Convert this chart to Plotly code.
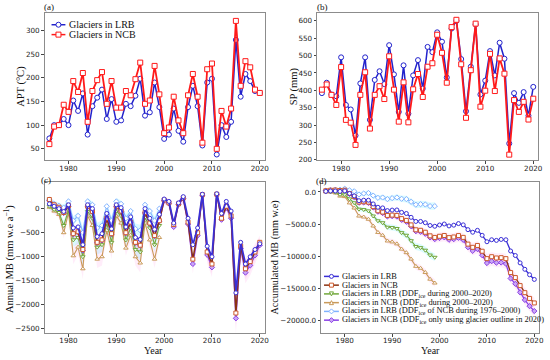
import numpy as np
import plotly.graph_objects as go

W, H = 550, 360

# ---------------- data ----------------
YEARS = list(range(1976, 2021))
YEARS_EARLY = list(range(1976, 2000))
X_TICKS = [1980, 1990, 2000, 2010, 2020]

APT_LRB = [72, 100, 100, 113, 100, 152, 130, 167, 80, 140, 158, 175, 113, 155, 107, 110, 145, 140, 162, 198,
           120, 127, 190, 138, 71, 80, 135, 88, 65, 138, 183, 140, 57, 190, 198, 38, 100, 75, 107, 280,
           160, 208, 193, 172, 168]
APT_NCB = [60, 97, 100, 143, 128, 193, 170, 210, 107, 172, 195, 212, 145, 193, 137, 137, 172, 163, 197, 232,
           145, 152, 225, 165, 83, 95, 160, 110, 83, 163, 208, 160, 63, 218, 230, 50, 130, 97, 135, 320,
           183, 235, 222, 175, 168]

SP_LRB = [392, 422, 388, 383, 495, 358, 345, 270, 420, 495, 315, 430, 455, 418, 530, 446, 338, 472, 333, 443,
          487, 405, 525, 510, 567, 540, 437, 578, 600, 490, 340, 468, 590, 388, 428, 513, 443, 537, 491, 247,
          392, 364, 395, 327, 410]
SP_NCB = [402, 417, 387, 358, 467, 315, 307, 243, 387, 452, 290, 387, 412, 375, 498, 402, 310, 423, 308, 403,
          447, 381, 468, 478, 560, 508, 422, 582, 603, 475, 321, 458, 592, 353, 399, 505, 398, 492, 448, 215,
          372, 338, 367, 316, 376]

MB_LRB = [100, 50, 0, -60, 80, -400, -380, -750, 80, 0, -580, -520, -100, -420, 80, 20, -380, -170, -600, -640,
          0, -200, -430, -120,
          200, 150, -300, 120, 250, -200, -750, -400, 300, -780, -1000, 310, -100, 150, -50, -1750,
          -700, -1150, -1000, -850, -730]
MB_NCB = [190, 80, 30, -80, 60, -520, -480, -850, 50, -60, -700, -650, -200, -520, 50, -50, -500, -280, -700, -760,
          -80, -300, -560, -250,
          180, 120, -330, 100, 220, -280, -1050, -500, 290, -900, -1150, 300, -200, 50, -150, -2170,
          -780, -1250, -1100, -900, -700]
MB_NCB_OUTLINE2020 = [170, 70, 20, -90, 50, -530, -490, -870, 40, -70, -710, -660, -210, -530, 40, -60, -510, -290,
                      -710, -770, -90, -310, -570, -260,
                      170, 110, -380, 90, 210, -320, -1150, -560, 280, -960, -1220, 290, -230, 20, -200, -2280,
                      -830, -1330, -1180, -970, -760]
MB_LRB_DDF2000 = [50, -20, -80, -350, -30, -650, -600, -1000, -60, -200, -800, -750, -300, -700, -50, -150,
                  -650, -400, -850, -900, -180, -400, -750, -350]
MB_NCB_DDF2000 = [30, -50, -120, -500, -80, -980, -800, -1250, -150, -350, -1050, -1000, -450, -880, -150, -300,
                  -820, -550, -1000, -1130, -300, -650, -1050, -600]
MB_LRB_DDFNCB = [180, 100, 60, 20, 150, -250, -150, -500, 150, 80, -400, -350, 50, -250, 150, 100,
                 -200, -50, -420, -450, 80, -50, -250, 0]

LABEL_LRB = "Glaciers in LRB"
LABEL_NCB = "Glaciers in NCB"
LABEL_D = [
    "Glaciers in LRB",
    "Glaciers in NCB",
    "Glaciers in LRB (DDF<sub>ice</sub> during 2000–2020)",
    "Glaciers in NCB (DDF<sub>ice</sub> during 2000–2020)",
    "Glaciers in LRB (DDF<sub>ice</sub> of NCB during 1976–2000)",
    "Glaciers in NCB (DDF<sub>ice</sub> only using glacier outline in 2020)",
]

# ---------------- helpers ----------------
def px(x):
    return x / W


def py(y):
    return 1 - y / H


SERIF = "Liberation Serif"
SANS = "DejaVu Sans"

BLUE_A = "#2222cc"
RED_A = "#ff1a1a"

C_LRB = "#3a2fd6"
C_NCB = "#8b3312"
C_NCB_M = "#cc5a2c"
C_GRN = "#72a83c"
C_TAN = "#c99a5a"
C_LBL = "#80b2ff"
C_PUR = "#8a40e6"

CYAN_F = "rgba(0,230,255,0.14)"
PINK_F = "rgba(255,60,200,0.09)"

fig = go.Figure()


def line_trace(x, y, color, symbol, mcolor, xa, ya, width=1.5, size=5, mfill="white"):
    fig.add_trace(go.Scatter(
        x=x, y=y, mode="lines+markers", xaxis=xa, yaxis=ya, showlegend=False,
        line=dict(color=color, width=width),
        marker=dict(symbol=symbol, size=size, color=mfill, line=dict(color=mcolor, width=1)),
    ))


def band_trace(x, y, half, fillcolor, xa, ya):
    up = [v + h for v, h in zip(y, half)]
    lo = [v - h for v, h in zip(y, half)]
    fig.add_trace(go.Scatter(
        x=list(x) + list(x)[::-1], y=up + lo[::-1], fill="toself", fillcolor=fillcolor,
        line=dict(width=0), mode="lines", hoverinfo="skip", showlegend=False, xaxis=xa, yaxis=ya,
    ))


# ---------------- (a) APT ----------------
line_trace(YEARS, APT_LRB, BLUE_A, "circle", BLUE_A, "x", "y", width=1.5, size=5)
line_trace(YEARS, APT_NCB, RED_A, "square", RED_A, "x", "y", width=1.8, size=5)

# ---------------- (b) SP ----------------
line_trace(YEARS, SP_LRB, BLUE_A, "circle", BLUE_A, "x2", "y2", width=1.5, size=5)
line_trace(YEARS, SP_NCB, RED_A, "square", RED_A, "x2", "y2", width=1.8, size=5)

# ---------------- (c) annual MB ----------------
def ann_half(y):
    return [0.12 * abs(v) + 60 for v in y]


band_trace(YEARS_EARLY, MB_LRB_DDFNCB, ann_half(MB_LRB_DDFNCB), CYAN_F, "x3", "y3")
band_trace(YEARS_EARLY, MB_LRB_DDF2000, ann_half(MB_LRB_DDF2000), CYAN_F, "x3", "y3")
band_trace(YEARS_EARLY, MB_NCB_DDF2000, ann_half(MB_NCB_DDF2000), PINK_F, "x3", "y3")
band_trace(YEARS, MB_NCB, ann_half(MB_NCB), PINK_F, "x3", "y3")
band_trace(YEARS, MB_NCB_OUTLINE2020, ann_half(MB_NCB_OUTLINE2020), PINK_F, "x3", "y3")

line_trace(YEARS_EARLY, MB_NCB_DDF2000, C_TAN, "triangle-up", C_TAN, "x3", "y3", width=1.1, size=4)
line_trace(YEARS_EARLY, MB_LRB_DDF2000, C_GRN, "triangle-down", C_GRN, "x3", "y3", width=1.1, size=4)
line_trace(YEARS_EARLY, MB_LRB_DDFNCB, C_LBL, "diamond", C_LBL, "x3", "y3", width=1.1, size=4)
line_trace(YEARS, MB_NCB_OUTLINE2020, C_PUR, "diamond", C_PUR, "x3", "y3", width=1.3, size=4, mfill="#c9a6f5")
line_trace(YEARS, MB_NCB, C_NCB, "square", C_NCB_M, "x3", "y3", width=1.5, size=4)
line_trace(YEARS, MB_LRB, C_LRB, "circle", C_LRB, "x3", "y3", width=1.8, size=4)

# ---------------- (d) accumulated MB ----------------
CUM_LRB = np.cumsum(MB_LRB).tolist()
CUM_NCB = np.cumsum(MB_NCB).tolist()
CUM_PUR = np.cumsum(MB_NCB_OUTLINE2020).tolist()
CUM_GRN = np.cumsum(MB_LRB_DDF2000).tolist()
CUM_TAN = np.cumsum(MB_NCB_DDF2000).tolist()
CUM_LBL = np.cumsum(MB_LRB_DDFNCB).tolist()


def cum_half(y):
    return [120 * np.sqrt(i + 1) for i in range(len(y))]


band_trace(YEARS_EARLY, CUM_LBL, cum_half(CUM_LBL), CYAN_F, "x4", "y4")
band_trace(YEARS_EARLY, CUM_GRN, cum_half(CUM_GRN), CYAN_F, "x4", "y4")
band_trace(YEARS_EARLY, CUM_TAN, cum_half(CUM_TAN), PINK_F, "x4", "y4")
band_trace(YEARS, CUM_NCB, cum_half(CUM_NCB), PINK_F, "x4", "y4")
band_trace(YEARS, CUM_PUR, cum_half(CUM_PUR), PINK_F, "x4", "y4")

line_trace(YEARS_EARLY, CUM_TAN, C_TAN, "triangle-up", C_TAN, "x4", "y4", width=1.1, size=4)
line_trace(YEARS_EARLY, CUM_GRN, C_GRN, "triangle-down", C_GRN, "x4", "y4", width=1.1, size=4)
line_trace(YEARS_EARLY, CUM_LBL, C_LBL, "diamond", C_LBL, "x4", "y4", width=1.1, size=4)
line_trace(YEARS, CUM_PUR, C_PUR, "diamond", C_PUR, "x4", "y4", width=1.3, size=4, mfill="#c9a6f5")
line_trace(YEARS, CUM_NCB, C_NCB, "square", C_NCB_M, "x4", "y4", width=1.3, size=4)
line_trace(YEARS, CUM_LRB, C_LRB, "circle", C_LRB, "x4", "y4", width=1.3, size=4)

# ---------------- axes ----------------
def ax(**kw):
    d = dict(showgrid=False, zeroline=False, showline=True, linecolor="#8c8c8c", linewidth=1,
             mirror=True, ticks="outside", ticklen=2.5, tickwidth=1, tickcolor="#444",
             tickfont=dict(family=SANS, size=7.2, color="#222"))
    d.update(kw)
    return d


XR = [1975, 2021]
fig.update_layout(
    xaxis=ax(domain=[px(45), px(267)], range=XR, tickvals=X_TICKS, anchor="y", ticklabelstandoff=-1),
    yaxis=ax(domain=[py(162), py(13)], range=[26, 337], tickvals=[50, 100, 150, 200, 250, 300], anchor="x"),
    xaxis2=ax(domain=[px(320), px(543)], range=XR, tickvals=X_TICKS, anchor="y2", ticklabelstandoff=-1),
    yaxis2=ax(domain=[py(162), py(13)], range=[199, 623],
              tickvals=[200, 250, 300, 350, 400, 450, 500, 550, 600], anchor="x2"),
    xaxis3=ax(domain=[px(45), px(267)], range=XR, tickvals=X_TICKS, anchor="y3", ticklabelstandoff=-2),
    yaxis3=ax(domain=[py(337), py(184)], range=[-2590, 555],
              tickvals=[0, -500, -1000, -1500, -2000, -2500], anchor="x3"),
    xaxis4=ax(domain=[px(324), px(544)], range=XR, tickvals=X_TICKS, anchor="y4", ticklabelstandoff=-2),
    yaxis4=ax(domain=[py(337), py(184)], range=[-22000, 1560],
              tickvals=[0, -5000, -10000, -15000, -20000], tickformat=".1f", anchor="x4"),
    width=W, height=H, margin=dict(l=0, r=0, t=0, b=0),
    paper_bgcolor="white", plot_bgcolor="white", showlegend=False,
)

# ---------------- text: titles, labels ----------------
ann = []


def text(x, y, s, size=9.5, angle=0, xanchor="center", family=SERIF, color="#111"):
    ann.append(dict(x=px(x), y=py(y), xref="paper", yref="paper", text=s, showarrow=False,
                    textangle=angle, xanchor=xanchor, yanchor="middle",
                    font=dict(family=family, size=size, color=color)))


text(42, 7, "(a)", size=9, xanchor="left")
text(318, 7, "(b)", size=9, xanchor="left")
text(39, 182, "(c)", size=9, xanchor="left")
text(317, 183, "(d)", size=9, xanchor="left")

text(21, 87, "APT (°C)", size=10.5, angle=-90)
text(297, 87, "SP (mm)", size=10.5, angle=-90)
text(9, 262, "Annual MB (mm w.e a<sup>−1</sup>)", size=10.5, angle=-90)
text(278, 260, "Accumulated MB (mm w.e)", size=10.2, angle=-90)
text(155, 354.5, "Year", size=10)
text(434, 354.5, "Year", size=10)

# ---------------- manual legends ----------------
shapes = []


def legend_entry(x0, x1, y, color, mshape, medge, mfill, label, size, r=2.5):
    shapes.append(dict(type="line", xref="paper", yref="paper", x0=px(x0), x1=px(x1),
                       y0=py(y), y1=py(y), line=dict(color=color, width=1.5)))
    xm = (x0 + x1) / 2
    base = dict(xref="paper", yref="paper", xsizemode="pixel", ysizemode="pixel",
                xanchor=px(xm), yanchor=py(y), fillcolor=mfill, line=dict(color=medge, width=1))
    if mshape in ("circle", "rect"):
        shapes.append(dict(type=mshape, x0=-r, x1=r, y0=-r, y1=r, **base))
    elif mshape == "diamond":
        shapes.append(dict(type="path", path=f"M0,{r+0.5} L{r+0.5},0 L0,{-r-0.5} L{-r-0.5},0 Z", **base))
    elif mshape == "tri-up":
        shapes.append(dict(type="path", path=f"M{-r},{-r} L{r},{-r} L0,{r} Z", **base))
    elif mshape == "tri-down":
        shapes.append(dict(type="path", path=f"M{-r},{r} L{r},{r} L0,{-r} Z", **base))
    text(x1 + 1.5, y, label, size=size, xanchor="left")


legend_entry(52, 66, 25, BLUE_A, "circle", BLUE_A, "white", LABEL_LRB, 10, r=2.5)
legend_entry(52, 66, 35, RED_A, "rect", RED_A, "white", LABEL_NCB, 10, r=2.5)

D_STYLE = [
    (C_LRB, "circle", C_LRB, "white"),
    (C_NCB, "rect", C_NCB_M, "white"),
    (C_GRN, "tri-down", C_GRN, "white"),
    (C_TAN, "tri-up", C_TAN, "white"),
    (C_LBL, "diamond", C_LBL, "white"),
    (C_PUR, "diamond", C_PUR, "#c9a6f5"),
]
for i, (lab, st) in enumerate(zip(LABEL_D, D_STYLE)):
    legend_entry(327, 342, 279.5 + 8.85 * i, st[0], st[1], st[2], st[3], lab, 8.4, r=2)

fig.update_layout(annotations=ann, shapes=shapes)

fig.write_html("out.html", config={"displayModeBar": False},
               post_script="document.body.style.margin='0';document.body.style.overflow='hidden';")
